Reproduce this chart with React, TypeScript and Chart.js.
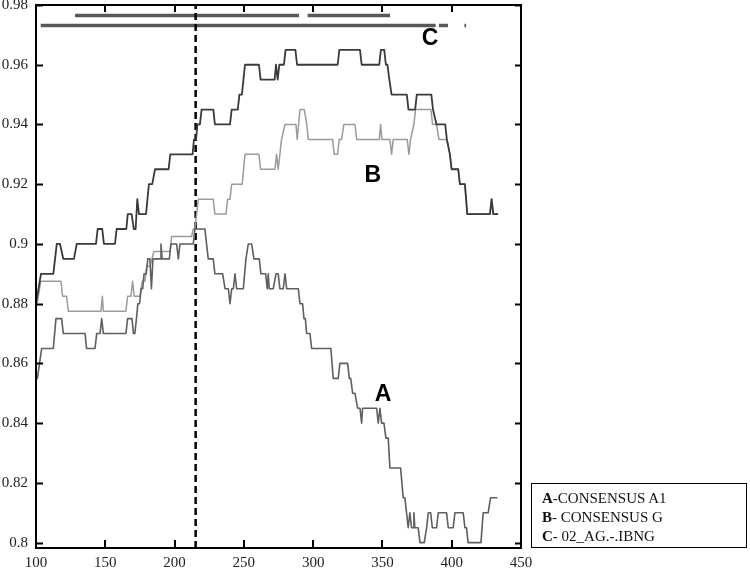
import React, { useEffect, useRef } from "react";
import { Chart, registerables } from "chart.js";
Chart.register(...registerables);

const xTicks = [100, 150, 200, 250, 300, 350, 400, 450];
const yTicks = [0.8, 0.82, 0.84, 0.86, 0.88, 0.9, 0.92, 0.94, 0.96, 0.98];
const xMin = 100;
const xMax = 450;
const yMin = 0.7982;
const yMax = 0.98;

const seriesC: [number, number][] = [
  [100, 0.88], [103.6, 0.89], [112.5, 0.89], [115, 0.9], [117.3, 0.9], [119.7, 0.895], [127.4, 0.895], [129.4, 0.9],
  [143.3, 0.9], [144.5, 0.905], [147.8, 0.905], [149, 0.9], [157, 0.9], [158.2, 0.905], [165.2, 0.905], [166.2, 0.91],
  [169, 0.91], [170.6, 0.905], [171.9, 0.905], [173.1, 0.915], [174.3, 0.91], [179.4, 0.91], [181.5, 0.92], [183.9, 0.92],
  [185.9, 0.925], [195.7, 0.925], [196.9, 0.93], [213, 0.93], [214, 0.935], [215.5, 0.935], [216.5, 0.94], [218.3, 0.94],
  [219.5, 0.945], [228, 0.945], [229.1, 0.94], [240, 0.94], [241.2, 0.945], [245.6, 0.945], [246.8, 0.95], [248.6, 0.95],
  [250.8, 0.96], [260.9, 0.96], [262.1, 0.955], [272.2, 0.955], [273.2, 0.96], [274.4, 0.955], [275.6, 0.96], [278.9, 0.96],
  [280.1, 0.965], [287.2, 0.965], [288.4, 0.96], [317.7, 0.96], [318.9, 0.965], [333.8, 0.965], [335, 0.96], [347.7, 0.96],
  [348.9, 0.965], [351.3, 0.965], [352.5, 0.96], [353.6, 0.96], [355, 0.955], [356.6, 0.95], [367.6, 0.95], [368.8, 0.945],
  [373.6, 0.945], [374.8, 0.95], [385.3, 0.95], [386.5, 0.945], [389, 0.94], [395.3, 0.94], [396.5, 0.935], [398.7, 0.93],
  [399.9, 0.925], [404.7, 0.925], [405.9, 0.92], [409.5, 0.92], [410.4, 0.915], [411.2, 0.91], [427.6, 0.91], [428.8, 0.915],
  [430, 0.91], [433.5, 0.91],
];

const seriesB: [number, number][] = [
  [100.8, 0.88], [103.4, 0.8875], [118, 0.8875], [119.2, 0.8825], [122.1, 0.8825], [123.3, 0.8775], [146.9, 0.8775],
  [147.9, 0.8825], [148.6, 0.8775], [164.9, 0.8775], [166.1, 0.8825], [168.5, 0.8825], [169.7, 0.8875], [170.9, 0.8825],
  [175, 0.8825], [176.6, 0.8875], [178.6, 0.8875], [179.9, 0.8925], [182.3, 0.8925], [185.1, 0.8975], [196.7, 0.8975],
  [197.9, 0.9025], [212.3, 0.9025], [213.5, 0.905], [214.7, 0.905], [217.1, 0.915], [227.9, 0.915], [229.1, 0.91],
  [237.1, 0.91], [238.3, 0.915], [240, 0.915], [241.2, 0.92], [248.8, 0.92], [250.8, 0.93], [260.9, 0.93], [262.1, 0.925],
  [272.4, 0.925], [273.6, 0.93], [274.8, 0.925], [276, 0.93], [277.2, 0.935], [279.7, 0.94], [287.6, 0.94], [288.5, 0.935],
  [290.5, 0.945], [293.6, 0.945], [295.4, 0.94], [296.5, 0.935], [314.1, 0.935], [315.2, 0.93], [317.6, 0.93], [318.8, 0.935],
  [320.5, 0.935], [322.2, 0.94], [330.2, 0.94], [331.4, 0.935], [347.7, 0.935], [348.7, 0.94], [349.6, 0.935], [355.4, 0.935],
  [356.6, 0.93], [357.8, 0.935], [367.9, 0.935], [369.1, 0.93], [370.3, 0.935], [372.7, 0.94], [373.9, 0.945], [385, 0.945],
  [386.2, 0.94], [389, 0.94], [390.8, 0.935], [396.5, 0.935], [398.7, 0.93], [399.9, 0.925], [404.7, 0.925], [405.9, 0.92],
  [409.5, 0.92], [410.4, 0.915], [411.2, 0.91], [427.6, 0.91], [428.8, 0.915], [430, 0.91], [433.5, 0.91],
];

const seriesA: [number, number][] = [
  [100, 0.855], [101, 0.855], [104.1, 0.865], [112.5, 0.865], [114.4, 0.875], [118.5, 0.875], [119.7, 0.87], [135.4, 0.87],
  [136.5, 0.865], [142.6, 0.865], [143.8, 0.87], [146.2, 0.87], [147.4, 0.875], [148.6, 0.87], [164.9, 0.87], [166.1, 0.875],
  [169.3, 0.875], [170.3, 0.87], [171.3, 0.87], [172.5, 0.875], [173.5, 0.88], [174.7, 0.88], [175.9, 0.885], [177, 0.885],
  [178, 0.89], [179.5, 0.89], [180.7, 0.895], [182.2, 0.895], [183.3, 0.885], [184.4, 0.895], [189.5, 0.895], [190.2, 0.9],
  [191, 0.895], [196.2, 0.895], [197.4, 0.9], [201.5, 0.9], [202.7, 0.895], [203.9, 0.9], [213.5, 0.9], [214.7, 0.905],
  [221.9, 0.905], [224.3, 0.895], [227.9, 0.895], [229.1, 0.89], [234.7, 0.89], [236.4, 0.885], [238.8, 0.885], [240, 0.88],
  [241.2, 0.885], [242.4, 0.885], [243.6, 0.89], [244.8, 0.885], [249.6, 0.885], [251.5, 0.895], [253.2, 0.9], [255.6, 0.9],
  [257.3, 0.895], [261.1, 0.895], [262.3, 0.89], [265.7, 0.89], [266.9, 0.885], [267.6, 0.89], [268.3, 0.885], [271.2, 0.885],
  [273.2, 0.89], [274.8, 0.89], [276, 0.885], [278.4, 0.885], [279.7, 0.89], [280.9, 0.885], [289.3, 0.885], [290.5, 0.88],
  [292.4, 0.88], [293.4, 0.875], [294.4, 0.875], [295.3, 0.87], [297.7, 0.87], [298.9, 0.865], [312.8, 0.865], [314.5, 0.855],
  [318.1, 0.855], [319.3, 0.86], [324.9, 0.86], [326.1, 0.855], [327.1, 0.855], [328.5, 0.85], [330.2, 0.85], [332.1, 0.845],
  [333.8, 0.845], [335, 0.84], [335.7, 0.845], [345.8, 0.845], [347, 0.84], [348.2, 0.845], [349.4, 0.84], [351.1, 0.84],
  [352.5, 0.835], [354.2, 0.835], [355.4, 0.825], [363.1, 0.825], [365, 0.815], [366.2, 0.815], [367.4, 0.81], [368.6, 0.805],
  [369.8, 0.81], [371, 0.805], [372.2, 0.805], [372.7, 0.81], [373.4, 0.805], [375.8, 0.805], [377.1, 0.8], [380.2, 0.8],
  [381.9, 0.805], [383.1, 0.81], [384.8, 0.81], [386, 0.805], [389.1, 0.805], [390.3, 0.81], [396.3, 0.81], [397.5, 0.805],
  [401.1, 0.805], [402.3, 0.81], [408.3, 0.81], [409.5, 0.805], [410.7, 0.805], [411.8, 0.8], [421.1, 0.8], [422.7, 0.81],
  [426.3, 0.81], [428, 0.815], [433, 0.815],
];

const bar1Y = 0.9765;
const bar1Segments: [number, number][] = [[128.2, 289.8], [296, 355.5]];
const bar2Y = 0.9731;
const bar2Segments: [number, number][] = [[103.4, 388.4], [390.8, 397.3], [409.2, 410.4]];
const markerX = 215.2;

const curveLabels = ["A", "B", "C"];
const curveLabelX = [350.4, 343.1, 384.3];
const curveLabelY = [0.8494, 0.9228, 0.9687];

const legendKeys = ["A", "B", "C"];
const legendTexts = ["-CONSENSUS A1", "- CONSENSUS G", "- 02_AG.-.IBNG"];

function toPoints(arr: [number, number][]) {
  return arr.map(([x, y]) => ({ x, y }));
}
function segPoints(segs: [number, number][], y: number) {
  const pts: { x: number; y: number | null }[] = [];
  segs.forEach(([a, b], i) => {
    if (i > 0) pts.push({ x: (a + segs[i - 1][1]) / 2, y: null });
    pts.push({ x: a, y });
    pts.push({ x: b, y });
  });
  return pts;
}

const framePlugin = {
  id: "frameAndLabels",
  afterDraw(chart: any) {
    const ctx = chart.ctx;
    const xs = chart.scales.x;
    const ys = chart.scales.y;
    const { left, right, top, bottom } = chart.chartArea;
    ctx.save();
    ctx.fillStyle = "#000";
    ctx.font = "bold 23px 'Liberation Sans', Arial, sans-serif";
    ctx.textAlign = "center";
    ctx.textBaseline = "middle";
    curveLabels.forEach((t, i) => {
      ctx.fillText(t, xs.getPixelForValue(curveLabelX[i]), ys.getPixelForValue(curveLabelY[i]));
    });
    ctx.strokeStyle = "#000";
    ctx.lineWidth = 2;
    ctx.strokeRect(left, top, right - left, bottom - top);
    ctx.beginPath();
    yTicks.forEach((v) => {
      const py = Math.round(ys.getPixelForValue(v)) + 0.5;
      ctx.moveTo(left, py);
      ctx.lineTo(left + 7, py);
      ctx.moveTo(right, py);
      ctx.lineTo(right - 6, py);
    });
    xTicks.forEach((v) => {
      const px = Math.round(xs.getPixelForValue(v));
      if (v === xMin || v === xMax) return;
      ctx.moveTo(px, bottom);
      ctx.lineTo(px, bottom - 8);
      ctx.moveTo(px, top);
      ctx.lineTo(px, top + 7);
    });
    ctx.stroke();
    ctx.restore();
  },
};

export default function App() {
  const ref = useRef<HTMLCanvasElement | null>(null);
  useEffect(() => {
    if (!ref.current) return;
    const lineBase = { pointRadius: 0, tension: 0, borderJoinStyle: "round", borderCapStyle: "butt" };
    const chart = new Chart(ref.current, {
      type: "line",
      data: {
        datasets: [
          { ...lineBase, label: "C", data: toPoints(seriesC), borderColor: "#3a3a3a", borderWidth: 1.8 },
          { ...lineBase, label: "A", data: toPoints(seriesA), borderColor: "#5f5f5f", borderWidth: 1.6 },
          { ...lineBase, label: "B", data: toPoints(seriesB), borderColor: "#9b9b9b", borderWidth: 1.5 },
          {
            label: "marker",
            data: [
              { x: markerX, y: yMin },
              { x: markerX, y: yMax },
            ],
            borderColor: "#000",
            borderWidth: 2.5,
            borderDash: [7, 4],
            pointRadius: 0,
          },
          { label: "bar1", data: segPoints(bar1Segments, bar1Y), borderColor: "#585858", borderWidth: 3.5, pointRadius: 0, spanGaps: false },
          { label: "bar2", data: segPoints(bar2Segments, bar2Y), borderColor: "#585858", borderWidth: 3.5, pointRadius: 0, spanGaps: false },
        ],
      },
      options: {
        animation: false,
        responsive: false,
        devicePixelRatio: 1,
        layout: { padding: { top: 5, right: 229, left: 0, bottom: 0 } },
        plugins: { legend: { display: false }, tooltip: { enabled: false } },
        scales: {
          x: {
            type: "linear",
            min: xMin,
            max: xMax,
            grid: { display: false, drawTicks: false },
            border: { display: false },
            afterBuildTicks: (s: any) => {
              s.ticks = xTicks.map((v) => ({ value: v }));
            },
            afterFit: (s: any) => {
              s.height = 22;
              s.paddingLeft = 0;
              s.paddingRight = 0;
            },
            ticks: {
              padding: 6,
              color: "#222",
              maxRotation: 0,
              autoSkip: false,
              font: { family: "'Liberation Serif', 'Times New Roman', serif", size: 15 },
              callback: (v: any) => String(v),
            },
          },
          y: {
            type: "linear",
            min: yMin,
            max: yMax,
            grid: { display: false, drawTicks: false },
            border: { display: false },
            afterBuildTicks: (s: any) => {
              s.ticks = yTicks.map((v) => ({ value: v }));
            },
            afterFit: (s: any) => {
              s.width = 36;
              s.paddingTop = 0;
              s.paddingBottom = 0;
            },
            ticks: {
              padding: 8,
              color: "#222",
              autoSkip: false,
              font: { family: "'Liberation Serif', 'Times New Roman', serif", size: 15 },
              callback: (v: any) => String(parseFloat(Number(v).toFixed(2))),
            },
          },
        },
      },
      plugins: [framePlugin],
    } as any);
    return () => chart.destroy();
  }, []);

  const lineCenters = [498, 517, 536];
  return (
    <div style={{ position: "absolute", left: 0, top: 0, width: 750, height: 570, background: "#fff" }}>
      <canvas ref={ref} width={750} height={570} style={{ position: "absolute", left: 0, top: 0 }} />
      <div
        style={{
          position: "absolute",
          left: 531,
          top: 483,
          width: 216,
          height: 65,
          border: "1px solid #000",
          boxSizing: "border-box",
        }}
      />
      {legendKeys.map((k, i) => (
        <div
          key={k}
          style={{
            position: "absolute",
            left: 542,
            top: lineCenters[i] - 10,
            height: 20,
            lineHeight: "20px",
            fontFamily: "'Liberation Serif', 'Times New Roman', serif",
            fontSize: 15,
            color: "#111",
            whiteSpace: "nowrap",
          }}
        >
          <b>{k}</b>
          {legendTexts[i]}
        </div>
      ))}
    </div>
  );
}
